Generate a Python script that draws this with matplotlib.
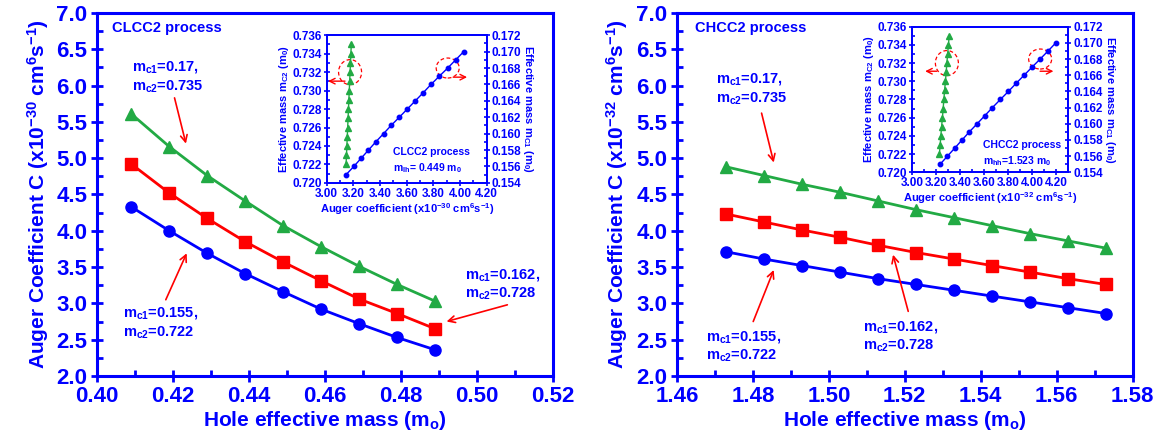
import matplotlib
matplotlib.use('Agg')
import matplotlib.pyplot as plt
from matplotlib.patches import Ellipse
from matplotlib.transforms import ScaledTranslation
from matplotlib.ticker import MultipleLocator, FormatStrFormatter

plt.rcParams['font.family'] = ['Liberation Sans', 'DejaVu Sans']
plt.rcParams['font.weight'] = 'bold'
plt.rcParams['mathtext.fontset'] = 'custom'
plt.rcParams['mathtext.rm'] = 'Liberation Sans:bold'
plt.rcParams['mathtext.it'] = 'Liberation Sans:bold'
plt.rcParams['mathtext.bf'] = 'Liberation Sans:bold'

BLUE = '#0000FF'
RED = '#FF0000'
GREEN = '#22AA44'

# CLCC2: Auger coefficient (x1e-30 cm^6/s) vs light-hole mass
m_lh = [0.409, 0.419, 0.429, 0.439, 0.449, 0.459, 0.469, 0.479, 0.489]
clcc_155 = [4.33, 4.00, 3.69, 3.41, 3.16, 2.92, 2.72, 2.53, 2.36]
clcc_162 = [4.92, 4.52, 4.17, 3.85, 3.57, 3.31, 3.06, 2.86, 2.65]
clcc_170 = [5.61, 5.16, 4.76, 4.41, 4.07, 3.78, 3.51, 3.26, 3.03]

# CHCC2: Auger coefficient (x1e-32 cm^6/s) vs heavy-hole mass
m_hh = [1.473, 1.483, 1.493, 1.503, 1.513, 1.523, 1.533, 1.543, 1.553, 1.563, 1.573]
chcc_155 = [3.71, 3.61, 3.52, 3.43, 3.34, 3.26, 3.18, 3.10, 3.02, 2.94, 2.86]
chcc_162 = [4.23, 4.12, 4.01, 3.91, 3.80, 3.70, 3.61, 3.52, 3.43, 3.34, 3.26]
chcc_170 = [4.88, 4.76, 4.64, 4.53, 4.41, 4.29, 4.18, 4.07, 3.96, 3.86, 3.76]

# inset data: conduction-band masses vs Auger coefficient
mc2 = [0.722, 0.723, 0.724, 0.725, 0.726, 0.727, 0.728, 0.729, 0.730,
       0.731, 0.732, 0.733, 0.734, 0.735]
mc1 = [0.155, 0.156, 0.157, 0.158, 0.159, 0.160, 0.161, 0.162, 0.163,
       0.164, 0.165, 0.166, 0.167, 0.168, 0.169, 0.170]
clcc_c_mc2 = [3.145, 3.148, 3.151, 3.154, 3.157, 3.160, 3.163, 3.166, 3.169,
              3.172, 3.175, 3.178, 3.181, 3.184]
clcc_c_mc1 = [3.145, 3.203, 3.258, 3.313, 3.368, 3.426, 3.483, 3.544, 3.604,
              3.664, 3.724, 3.782, 3.844, 3.907, 3.967, 4.027]
chcc_c_mc2 = [3.229, 3.235, 3.241, 3.247, 3.254, 3.260, 3.266, 3.272, 3.279,
              3.285, 3.291, 3.297, 3.304, 3.310]
chcc_c_mc1 = [3.235, 3.296, 3.357, 3.417, 3.478, 3.542, 3.606, 3.669, 3.735,
              3.802, 3.866, 3.932, 3.998, 4.065, 4.131, 4.195]

fig = plt.figure(figsize=(11.69, 4.46), dpi=100)


def style_main(ax, xlim, exp):
    ax.set_xlim(*xlim)
    ax.set_ylim(2.0, 7.0)
    ax.xaxis.set_major_locator(MultipleLocator(0.02))
    ax.xaxis.set_minor_locator(MultipleLocator(0.01))
    ax.yaxis.set_major_locator(MultipleLocator(0.5))
    ax.yaxis.set_minor_locator(MultipleLocator(0.25))
    ax.xaxis.set_major_formatter(FormatStrFormatter('%.2f'))
    ax.yaxis.set_major_formatter(FormatStrFormatter('%.1f'))
    for s in ax.spines.values():
        s.set_color(BLUE)
        s.set_linewidth(2.2)
    ax.tick_params(which='major', direction='inout', length=8, width=2,
                   colors=BLUE, labelsize=16, pad=3)
    ax.tick_params(which='minor', direction='in', length=4, width=2, colors=BLUE)
    ax.set_xlabel('Hole effective mass (m$_o$)', color=BLUE, fontsize=15,
                  fontweight='bold', labelpad=2)
    ax.set_ylabel('Auger Coefficient C (x10$^{-%d}$ cm$^6$s$^{-1}$)' % exp,
                  color=BLUE, fontsize=15, fontweight='bold', labelpad=4)


def plot_main(ax, x, y155, y162, y170):
    ax.plot(x, y155, '-o', color=BLUE, lw=2, ms=8, clip_on=False)
    ax.plot(x, y162, '-s', color=RED, lw=2, ms=8, clip_on=False)
    ax.plot(x, y170, '-^', color=GREEN, lw=2, ms=8.5, clip_on=False)


def note(ax, text, xy):
    ax.text(xy[0], xy[1], text, color=BLUE, fontsize=10.5, fontweight='bold',
            ha='left', va='center', linespacing=1.25)


def arrow(ax, head, tail):
    ax.annotate('', xy=head, xytext=tail,
                arrowprops=dict(arrowstyle='->', color=RED, lw=1.2,
                                mutation_scale=12, shrinkA=0, shrinkB=0))


def style_inset(ax, ax2, xlim):
    ax.set_xlim(*xlim)
    ax.set_ylim(0.720, 0.736)
    ax2.set_ylim(0.154, 0.172)
    ax.xaxis.set_major_locator(MultipleLocator(0.2))
    ax.xaxis.set_minor_locator(MultipleLocator(0.1))
    ax.yaxis.set_major_locator(MultipleLocator(0.002))
    ax.yaxis.set_minor_locator(MultipleLocator(0.001))
    ax2.yaxis.set_major_locator(MultipleLocator(0.002))
    ax2.yaxis.set_minor_locator(MultipleLocator(0.001))
    ax.xaxis.set_major_formatter(FormatStrFormatter('%.2f'))
    ax.yaxis.set_major_formatter(FormatStrFormatter('%.3f'))
    ax2.yaxis.set_major_formatter(FormatStrFormatter('%.3f'))
    for a in (ax, ax2):
        for s in a.spines.values():
            s.set_color(BLUE)
            s.set_linewidth(1.3)
        a.tick_params(which='major', direction='inout', length=4, width=1.2,
                      colors=BLUE, labelsize=8.5, pad=1.5)
        a.tick_params(which='minor', direction='in', length=2.5, width=1.2,
                      colors=BLUE)
    ax.set_ylabel('Effective mass m$_{C2}$ (m$_0$)', color=BLUE, fontsize=8,
                  fontweight='bold', labelpad=1)
    ax2.set_ylabel('Effective mass m$_{C1}$ (m$_0$)', color=BLUE, fontsize=8,
                   fontweight='bold', rotation=270, labelpad=10)


def plot_inset(ax, ax2, c_mc2, c_mc1):
    ax.plot(c_mc2, mc2, '-^', color=GREEN, lw=1, ms=4.5)
    ax2.plot(c_mc1, mc1, '-o', color=BLUE, lw=1, ms=3.2)
    # dashed rings marking which curve belongs to which axis
    for a, xs, ys, i, w, h in ((ax, c_mc2, mc2, 10, 0.23, 0.25),
                               (ax2, c_mc1, mc1, 13, 0.23, 0.20)):
        tr = fig.dpi_scale_trans + ScaledTranslation(xs[i], ys[i], a.transData)
        a.add_patch(Ellipse((0, 0), w, h, transform=tr, fill=False,
                            edgecolor=RED, lw=0.9, ls=(0, (3, 2)), clip_on=False))


# ---- left panel: CLCC2 ----
ax1 = fig.add_axes([0.083, 0.157, 0.39, 0.814])
plot_main(ax1, m_lh, clcc_155, clcc_162, clcc_170)
style_main(ax1, (0.40, 0.52), 30)
ax1.text(0.033, 0.959, 'CLCC2 process', transform=ax1.transAxes, color=BLUE,
         fontsize=10.5, fontweight='bold', va='center')
note(ax1, 'm$_{c1}$=0.17,\nm$_{c2}$=0.735', (0.4091, 6.12))
arrow(ax1, (0.4234, 5.20), (0.4204, 5.83))
note(ax1, 'm$_{c1}$=0.155,\nm$_{c2}$=0.722', (0.4068, 2.73))
arrow(ax1, (0.4236, 3.69), (0.4181, 3.05))
note(ax1, 'm$_{c1}$=0.162,\nm$_{c2}$=0.728', (0.4968, 3.26))
arrow(ax1, (0.4920, 2.75), (0.5080, 2.98))

ins1 = fig.add_axes([0.2795, 0.590, 0.1369, 0.331])
ins1b = ins1.twinx()
plot_inset(ins1, ins1b, clcc_c_mc2, clcc_c_mc1)
style_inset(ins1, ins1b, (3.0, 4.2))
ins1.set_xlabel('Auger coefficient (x10$^{-30}$ cm$^6$s$^{-1}$)', color=BLUE,
                fontsize=8, fontweight='bold', labelpad=1)
ins1.text(0.416, 0.15, 'CLCC2 process\nm$_{lh}$= 0.449 m$_0$',
          transform=ins1.transAxes, color=BLUE, fontsize=7.5,
          fontweight='bold', va='center', linespacing=1.4)
ins1.annotate('', xy=(0.008, 0.689), xytext=(0.114, 0.689),
              xycoords='axes fraction',
              arrowprops=dict(arrowstyle='->', color=RED, lw=1, shrinkA=0, shrinkB=0))
ins1.annotate('', xy=(0.877, 0.716), xytext=(0.79, 0.716),
              xycoords='axes fraction',
              arrowprops=dict(arrowstyle='->', color=RED, lw=1, shrinkA=0, shrinkB=0))

# ---- right panel: CHCC2 ----
ax2 = fig.add_axes([0.579, 0.157, 0.39, 0.814])
plot_main(ax2, m_hh, chcc_155, chcc_162, chcc_170)
style_main(ax2, (1.46, 1.58), 32)
ax2.text(0.039, 0.959, 'CHCC2 process', transform=ax2.transAxes, color=BLUE,
         fontsize=10.5, fontweight='bold', va='center')
note(ax2, 'm$_{c1}$=0.17,\nm$_{c2}$=0.735', (1.4703, 5.95))
arrow(ax2, (1.4855, 4.94), (1.4823, 5.62))
note(ax2, 'm$_{c1}$=0.155,\nm$_{c2}$=0.722', (1.4678, 2.41))
arrow(ax2, (1.4855, 3.46), (1.4801, 2.75))
note(ax2, 'm$_{c1}$=0.162,\nm$_{c2}$=0.728', (1.5089, 2.54))
arrow(ax2, (1.5169, 3.67), (1.5209, 2.89))

ins2 = fig.add_axes([0.780, 0.6137, 0.134, 0.3265])
ins2b = ins2.twinx()
plot_inset(ins2, ins2b, chcc_c_mc2, chcc_c_mc1)
style_inset(ins2, ins2b, (3.0, 4.3))
ins2.set_xlabel('Auger coefficient (x10$^{-32}$ cm$^6$s$^{-1}$)', color=BLUE,
                fontsize=8, fontweight='bold', labelpad=1)
ins2.text(0.453, 0.127, 'CHCC2 process\nm$_{hh}$=1.523 m$_0$',
          transform=ins2.transAxes, color=BLUE, fontsize=7.5,
          fontweight='bold', va='center', linespacing=1.4)
ins2.annotate('', xy=(0.085, 0.694), xytext=(0.16, 0.694),
              xycoords='axes fraction',
              arrowprops=dict(arrowstyle='->', color=RED, lw=1, shrinkA=0, shrinkB=0))
ins2.annotate('', xy=(0.904, 0.694), xytext=(0.819, 0.694),
              xycoords='axes fraction',
              arrowprops=dict(arrowstyle='->', color=RED, lw=1, shrinkA=0, shrinkB=0))

fig.savefig('out.png', dpi=100)
